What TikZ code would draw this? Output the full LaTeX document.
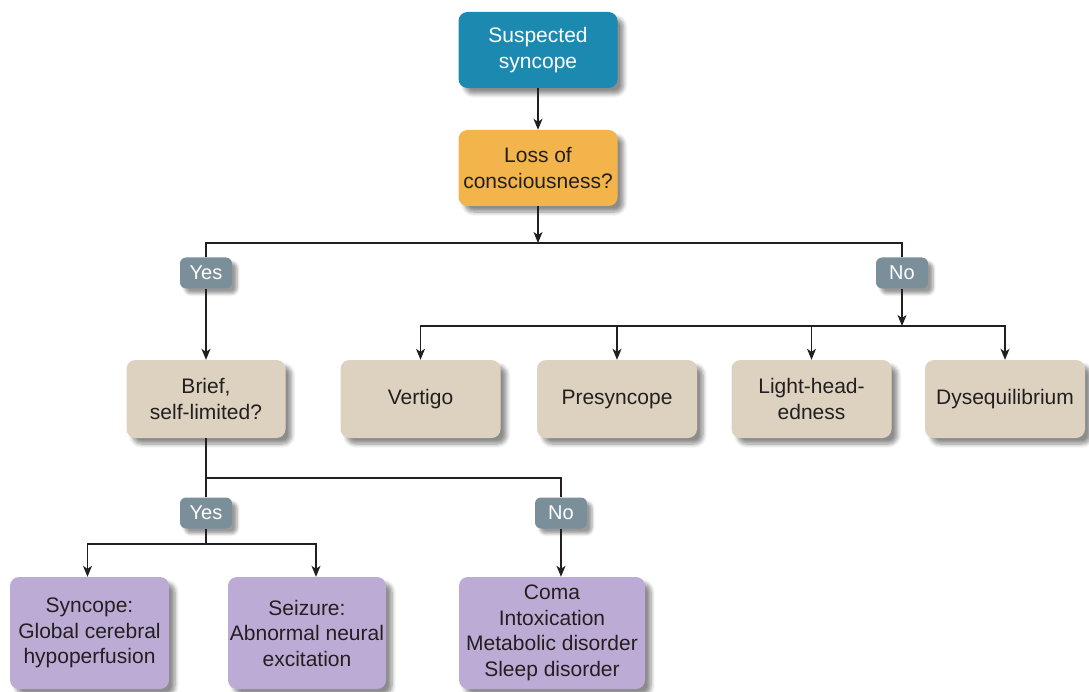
\documentclass[tikz,border=0pt]{standalone}
\usepackage{fontspec}
\setmainfont{Liberation Sans}
\usetikzlibrary{arrows.meta,shadows.blur}

\definecolor{headblue}{HTML}{1C8AB0}
\definecolor{qorange}{HTML}{F2B44B}
\definecolor{tanbox}{HTML}{DDD2C0}
\definecolor{lilacbox}{HTML}{BCACD5}
\definecolor{tagslate}{HTML}{7B8F9A}
\definecolor{inkline}{HTML}{231F20}

\tikzset{
  card/.style={rectangle, rounded corners=9pt, inner sep=0pt, align=center,
    text=inkline, font=\fontsize{21}{25.5}\selectfont,
    blur shadow={shadow xshift=6pt, shadow yshift=-6pt, shadow blur steps=6,
      shadow blur radius=4pt, shadow opacity=45}},
  tag/.style={rectangle, rounded corners=6pt, inner sep=0pt, fill=tagslate,
    text=white, minimum width=52pt, minimum height=31pt,
    font=\fontsize{20}{22}\selectfont,
    blur shadow={shadow xshift=5pt, shadow yshift=-5pt, shadow blur steps=5,
      shadow blur radius=3pt, shadow opacity=40}},
  wire/.style={draw=inkline, line width=1.3pt},
  arr/.style={wire, -{Stealth[length=11pt,width=9pt,inset=3pt]}},
}

\begin{document}
\begin{tikzpicture}[x=1pt,y=-1pt]
  \useasboundingbox (0,0) rectangle (1089,692);

  % top of the chart
  \node[card, fill=headblue, text=white, minimum width=159pt, minimum height=76pt]
    (start) at (538,50) {Suspected\\syncope};
  \node[card, fill=qorange, minimum width=159pt, minimum height=76pt]
    (loc) at (538,168) {Loss of\\consciousness?};

  % first split
  \node[tag] (yesA) at (206,273) {Yes};
  \node[tag] (noA) at (902,273) {No};

  \node[card, fill=tanbox, minimum width=159pt, minimum height=78pt]
    (brief) at (206,399) {Brief,\\self-limited?};
  \node[card, fill=tanbox, minimum width=160pt, minimum height=78pt]
    (vertigo) at (420.5,399) {Vertigo};
  \node[card, fill=tanbox, minimum width=160pt, minimum height=78pt]
    (presync) at (617,399) {Presyncope};
  \node[card, fill=tanbox, minimum width=160pt, minimum height=78pt]
    (lighthead) at (811.5,399) {Light-head-\\edness};
  \node[card, fill=tanbox, minimum width=160pt, minimum height=78pt]
    (dyseq) at (1005,399) {Dysequilibrium};

  % second split
  \node[tag] (yesB) at (206,513) {Yes};
  \node[tag] (noB) at (561,513) {No};

  \node[card, fill=lilacbox, minimum width=159pt, minimum height=112pt]
    (syncope) at (89.5,633) {Syncope:\\Global cerebral\\hypoperfusion};
  \node[card, fill=lilacbox, minimum width=158pt, minimum height=112pt]
    (seizure) at (307,633) {Seizure:\\Abnormal neural\\excitation};
  \node[card, fill=lilacbox, minimum width=186pt, minimum height=112pt]
    (coma) at (552,633) {Coma\\Intoxication\\Metabolic disorder\\Sleep disorder};

  % junction points of the branch bars
  \coordinate (barA) at (538,243);
  \coordinate (barB) at (902,326);
  \coordinate (barC) at (206,478);
  \coordinate (barD) at (206,544);

  % connectors
  \draw[arr] (start) -- (loc);
  \draw[arr] (loc) -- (barA);
  \draw[wire] (yesA.north) |- (barA) -| (noA.north);
  \draw[arr] (yesA) -- (brief);
  \draw[arr] (noA) -- (barB);
  \draw[arr] (barB) -| (vertigo.north);
  \draw[arr] (barB) -| (presync.north);
  \draw[arr] (barB) -| (lighthead.north);
  \draw[arr] (barB) -| (dyseq.north);

  \draw[wire] (brief) -- (yesB);
  \draw[wire] (barC) -| (noB.north);
  \draw[arr] (noB) -- (noB |- coma.north);
  \draw[wire] (yesB) -- (barD);
  \draw[arr] (barD) -| ([xshift=-2pt]syncope.north);
  \draw[arr] (barD) -| ([xshift=9pt]seizure.north);
\end{tikzpicture}
\end{document}
